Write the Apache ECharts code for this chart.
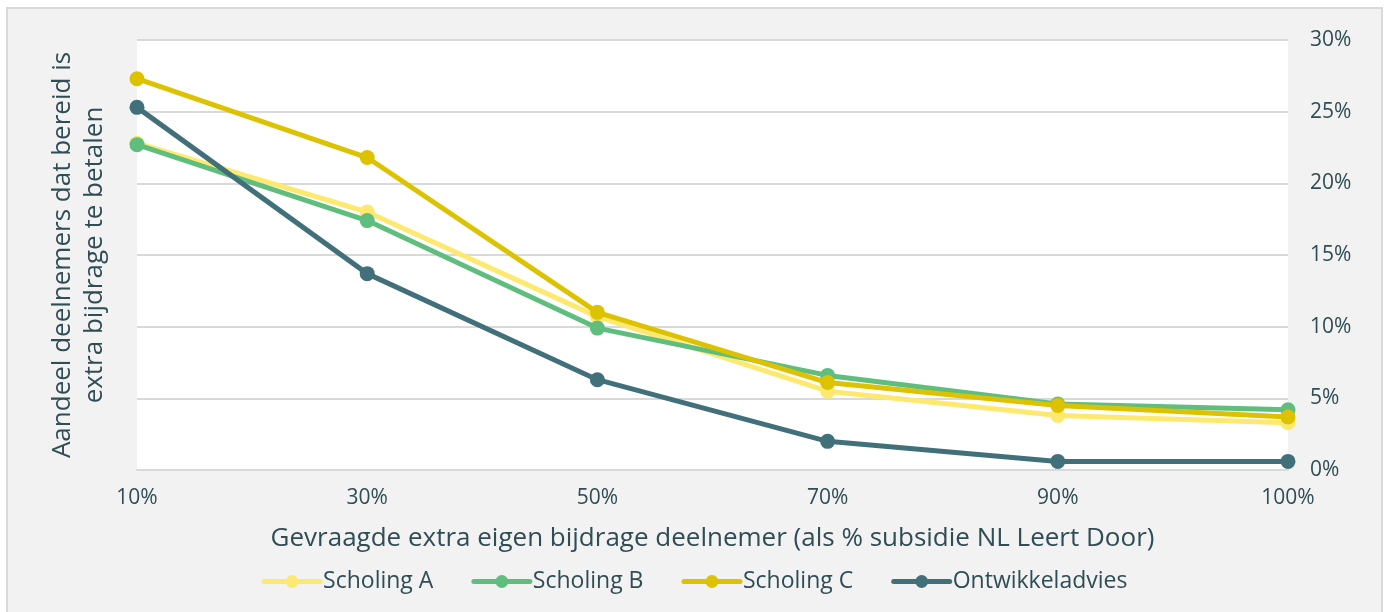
<!DOCTYPE html>
<html><head><meta charset="utf-8">
<script src="https://cdn.jsdelivr.net/npm/echarts@6/dist/echarts.min.js"></script>
<style>
html,body{margin:0;padding:0;background:#fff;}
#frame{position:absolute;left:6px;top:7px;width:1377px;height:620px;border:2px solid #d9d9d9;background:#f2f2f2;box-sizing:border-box;}
#c{position:absolute;left:0;top:0;width:1389px;height:612px;}
</style></head>
<body>
<div id="frame"></div>
<div id="c"></div>
<script>
const categories = ['10%', '30%', '50%', '70%', '90%', '100%'];
const scholingA = [22.8, 18.0, 10.7, 5.5, 3.8, 3.3];
const scholingB = [22.7, 17.4, 9.9, 6.6, 4.6, 4.2];
const scholingC = [27.3, 21.8, 11.0, 6.1, 4.5, 3.7];
const ontwikkeladvies = [25.3, 13.7, 6.3, 2.0, 0.6, 0.6];
const seriesNames = ['Scholing A', 'Scholing B', 'Scholing C', 'Ontwikkeladvies'];
const colors = ['#fde96f', '#5fbe7d', '#dcc200', '#41707b'];
const yTitle = 'Aandeel deelnemers dat bereid is\nextra bijdrage te betalen';
const xTitle = 'Gevraagde extra eigen bijdrage deelnemer (als % subsidie NL Leert Door)';

const textColor = '#2f4d55';
const font = 'Open Sans';
const chart = echarts.init(document.getElementById('c'), null, {renderer: 'canvas'});
const data = [scholingA, scholingB, scholingC, ontwikkeladvies];
chart.setOption({
  animation: false,
  backgroundColor: 'transparent',
  textStyle: {fontFamily: font, color: textColor},
  grid: {left: 137, right: 101, top: 40, bottom: 142, show: true, backgroundColor: '#ffffff', borderWidth: 0, containLabel: false},
  legend: {
    top: 565, left: 'center', itemWidth: 56, itemHeight: 16, itemGap: 38,
    lineStyle: {width: 5, cap: 'round'},
    textStyle: {fontFamily: font, fontSize: 23, color: textColor, padding: [0, 0, 0, -2]},
    data: seriesNames
  },
  xAxis: {
    type: 'category', data: categories, boundaryGap: false,
    axisLine: {show: true, lineStyle: {color: '#d9d9d9', width: 2}},
    axisTick: {show: false},
    axisLabel: {fontFamily: font, fontSize: 21, color: textColor, margin: 18},
    name: xTitle, nameLocation: 'middle', nameGap: 56,
    nameTextStyle: {fontFamily: font, fontSize: 26, color: textColor}
  },
  yAxis: [{
    type: 'value', position: 'right', min: 0, max: 30, interval: 5,
    axisLine: {show: false}, axisTick: {show: false},
    axisLabel: {fontFamily: font, fontSize: 21, color: textColor, margin: 22, formatter: v => v + '%'},
    splitLine: {lineStyle: {color: '#d9d9d9', width: 2}}
  }, {
    type: 'value', position: 'left', min: 0, max: 30, interval: 5,
    axisLine: {show: false}, axisTick: {show: false}, axisLabel: {show: false}, splitLine: {show: false},
    name: yTitle, nameLocation: 'middle', nameGap: 26, nameRotate: 90,
    nameTextStyle: {fontFamily: font, fontSize: 26, color: textColor, lineHeight: 32}
  }],
  series: data.map((d, i) => ({
    name: seriesNames[i], type: 'line', data: d, yAxisIndex: 0,
    symbol: 'circle', symbolSize: 15, showSymbol: true,
    lineStyle: {color: colors[i], width: 5},
    itemStyle: {color: colors[i]},
    z: 2 + i
  }))
});
</script>
</body></html>
